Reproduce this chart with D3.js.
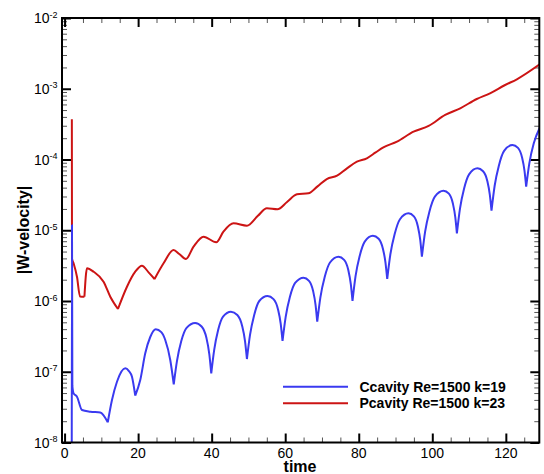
<!DOCTYPE html>
<html><head><meta charset="utf-8">
<script src="https://cdn.jsdelivr.net/npm/d3@7"></script>
<style>body{margin:0;background:#fff}svg{display:block}</style>
</head><body><svg id="c" width="544" height="474"></svg>
<script>
// ---- data ----
const seriesNames = ["Ccavity Re=1500 k=19", "Pcavity Re=1500 k=23"];
const seriesColors = ["#3a3af0", "#cc1414"];
const xMajorTicks = [0, 20, 40, 60, 80, 100, 120];
const xMinorTicks = [5, 10, 15, 25, 30, 35, 45, 50, 55, 65, 70, 75, 85, 90, 95, 105, 110, 115, 125];
const yDecadeExps = [-8, -7, -6, -5, -4, -3, -2];
const yTickLabels = ["-8", "-7", "-6", "-5", "-4", "-3", "-2"];

// Ccavity: time and log10|W|
const ccavityTime = [1.95,2.02,2.12,2.45,3.37,4.73,7.0,9.71,11.75,12.89,14.25,16.5,17.5,18.33,19.22,20.58,21.94,23.3,24.8,26.3,27.38,28.74,29.69,
 30.56,31.72,33.18,35.5,37.26,38.57,39.36,39.89,40.69,41.76,43.10,45.24,46.98,48.29,49.07,49.59,50.43,51.55,52.95,55.19,56.82,58.05,58.78,59.27,
 60.13,61.27,62.70,64.98,66.47,67.59,68.26,68.71,69.58,70.74,72.18,74.50,76.02,77.16,77.84,78.30,79.13,80.24,81.63,83.85,85.41,86.57,87.27,87.74,
 88.61,89.77,91.21,93.53,94.99,96.08,96.73,97.17,98.05,99.23,100.7,103.05,104.51,105.60,106.25,106.69,107.53,108.65,110.05,112.29,113.81,114.96,115.64,116.10,
 116.96,118.10,119.53,121.81,123.30,124.41,125.08,125.53,126.4,127.6,129.2];
const ccavityLog10 = [-8.3,-4.926,-7.2,-7.305,-7.353,-7.541,-7.565,-7.576,-7.714,-7.399,-7.141,-6.951,-6.99,-7.07,-7.338,-7.117,-6.739,-6.509,-6.400,-6.44,-6.551,-6.834,-7.177,
 -6.85,-6.57,-6.38,-6.31,-6.36,-6.52,-6.75,-7.022,-6.69,-6.41,-6.22,-6.151,-6.198,-6.352,-6.566,-6.820,-6.48,-6.20,-6.00,-5.929,-5.974,-6.120,-6.323,-6.565,
 -6.225,-5.945,-5.745,-5.671,-5.715,-5.859,-6.057,-6.293,-5.944,-5.661,-5.456,-5.374,-5.418,-5.562,-5.762,-6.0,-5.649,-5.366,-5.160,-5.077,-5.120,-5.262,-5.456,-5.689,
 -5.336,-5.053,-4.844,-4.760,-4.803,-4.946,-5.141,-5.374,-5.019,-4.734,-4.525,-4.441,-4.483,-4.623,-4.814,-5.043,-4.694,-4.410,-4.207,-4.124,-4.166,-4.304,-4.496,-4.724,
 -4.371,-4.088,-3.879,-3.795,-3.836,-3.972,-4.160,-4.384,-4.05,-3.77,-3.555];
const ccavityCusps = [11.75,19.22,29.69,39.89,49.59,59.27,68.71,78.30,87.74,97.17,106.69,116.10,125.53];

// Pcavity: time and log10|W|
const pcavityTime = [1.98,2.02,2.45,3.37,4.2,5.4,6.1,7.89,10.6,12.43,14.52,16.97,19.22,21.04,22.84,24.47,26.92,29.64,31.19,33.0,35.07,37.8,41.25,43.2,45.95,
 49.6,52.5,55.03,57.9,60.5,63.2,66.3,68.8,71.3,74.1,76.8,79.5,82.2,84.6,86.7,90.4,94.9,99.0,103.5,107.6,112.1,115.7,119.8,123.0,129.2];
const pcavityLog10 = [-3.43,-5.40,-5.467,-5.657,-5.935,-5.939,-5.538,-5.586,-5.727,-5.939,-6.113,-5.798,-5.586,-5.501,-5.595,-5.689,-5.467,-5.279,-5.336,-5.406,-5.232,-5.091,-5.170,-5.02,-4.902,
 -4.935,-4.80,-4.690,-4.704,-4.60,-4.492,-4.478,-4.38,-4.276,-4.229,-4.125,-4.031,-3.983,-3.90,-3.828,-3.748,-3.607,-3.526,-3.371,-3.276,-3.145,-3.064,-2.947,-2.866,-2.655];
const pcavityCusps = [5.4,14.52,24.47];

// ---- drawing ----
const svg = d3.select("#c");
const P = {left:62, right:539.3, top:18, bottom:442.5};
const x = d3.scaleLinear().domain([-0.7,129.1]).range([P.left,P.right]);
const y = d3.scaleLog().domain([1e-8,1e-2]).range([P.bottom,P.top]);
const FONT = "'Liberation Sans', Arial, Helvetica, sans-serif";

svg.append("rect").attr("width",544).attr("height",474).attr("fill","#fff");
svg.append("clipPath").attr("id","clip").append("rect")
  .attr("x",P.left).attr("y",P.top).attr("width",P.right-P.left).attr("height",P.bottom-P.top);

const yMinor = [];
yDecadeExps.slice(0,-1).forEach(e=>{ for(let m=2;m<=9;m++) yMinor.push(m*Math.pow(10,e)); });
const yMajor = yDecadeExps.map(e=>Math.pow(10,e));

function styleAxis(g, w, c){
  g.select(".domain").remove();
  g.selectAll(".tick line").attr("stroke",c).attr("stroke-width",w);
  g.selectAll(".tick text").remove();
}
// minor ticks
styleAxis(svg.append("g").attr("transform",`translate(0,${P.bottom})`).call(d3.axisBottom(x).tickValues(xMinorTicks).tickSize(-5)),1,"#555");
styleAxis(svg.append("g").attr("transform",`translate(0,${P.top})`).call(d3.axisTop(x).tickValues(xMinorTicks).tickSize(-5)),1,"#555");
styleAxis(svg.append("g").attr("transform",`translate(${P.left},0)`).call(d3.axisLeft(y).tickValues(yMinor).tickSize(-5)),1,"#555");
styleAxis(svg.append("g").attr("transform",`translate(${P.right},0)`).call(d3.axisRight(y).tickValues(yMinor).tickSize(-5)),1,"#555");
// major ticks
styleAxis(svg.append("g").attr("transform",`translate(0,${P.bottom})`).call(d3.axisBottom(x).tickValues(xMajorTicks).tickSize(-9)),2,"#000");
styleAxis(svg.append("g").attr("transform",`translate(0,${P.top})`).call(d3.axisTop(x).tickValues(xMajorTicks).tickSize(-9)),2,"#000");
styleAxis(svg.append("g").attr("transform",`translate(${P.left},0)`).call(d3.axisLeft(y).tickValues(yMajor).tickSize(-9)),2,"#000");
styleAxis(svg.append("g").attr("transform",`translate(${P.right},0)`).call(d3.axisRight(y).tickValues(yMajor).tickSize(-9)),2,"#000");

// x tick labels
svg.append("g").selectAll("text").data(xMajorTicks).join("text")
  .attr("x",d=>x(d)).attr("y",P.bottom+15).attr("text-anchor","middle")
  .attr("font-family",FONT).attr("font-size",14).attr("fill","#000").text(d=>d);
// y tick labels with superscript
const yl = svg.append("g").selectAll("text").data(yDecadeExps).join("text")
  .attr("x",57.5).attr("y",d=>y(Math.pow(10,d))+5).attr("text-anchor","end")
  .attr("font-family",FONT).attr("font-size",14).attr("fill","#000");
yl.append("tspan").text("10");
yl.append("tspan").attr("dy",-5.5).attr("font-size",9).text((d,i)=>yTickLabels[i]);

// axis titles
svg.append("text").attr("x",300).attr("y",472).attr("text-anchor","middle")
  .attr("font-family",FONT).attr("font-weight","bold").attr("font-size",16).text("time");
svg.append("text").attr("transform","translate(29,230) rotate(-90)").attr("text-anchor","middle")
  .attr("font-family",FONT).attr("font-weight","bold").attr("font-size",16).text("|W-velocity|");

// curves
const line = d3.line().x(d=>x(d[0])).y(d=>y(Math.pow(10,d[1]))).curve(d3.curveMonotoneX);
function segmentPath(ts, vs, cusps){
  const pts = ts.map((t,i)=>[t,vs[i]]);
  const segs=[]; let cur=[];
  pts.forEach(p=>{ cur.push(p); if(cusps.includes(p[0])){ segs.push(cur); cur=[p]; } });
  if(cur.length>1) segs.push(cur);
  return segs.map(s=>line(s)).join("");
}
const gData = svg.append("g").attr("clip-path","url(#clip)");
gData.append("path").attr("d",segmentPath(pcavityTime,pcavityLog10,pcavityCusps))
  .attr("fill","none").attr("stroke",seriesColors[1]).attr("stroke-width",2).attr("stroke-linejoin","round");
gData.append("path").attr("d",segmentPath(ccavityTime,ccavityLog10,ccavityCusps))
  .attr("fill","none").attr("stroke",seriesColors[0]).attr("stroke-width",2).attr("stroke-linejoin","round");

// frame
svg.append("rect").attr("x",P.left).attr("y",P.top).attr("width",P.right-P.left).attr("height",P.bottom-P.top)
  .attr("fill","none").attr("stroke","#000").attr("stroke-width",2);

// legend
const lg = svg.append("g").selectAll("g").data(seriesNames).join("g")
  .attr("transform",(d,i)=>`translate(0,${386.7+i*16.6})`);
lg.append("line").attr("x1",283).attr("x2",348).attr("stroke",(d,i)=>seriesColors[i]).attr("stroke-width",2);
lg.append("text").attr("x",359.5).attr("dy","0.36em").attr("font-family",FONT).attr("font-weight","bold")
  .attr("font-size",14).text(d=>d);
</script></body></html>
